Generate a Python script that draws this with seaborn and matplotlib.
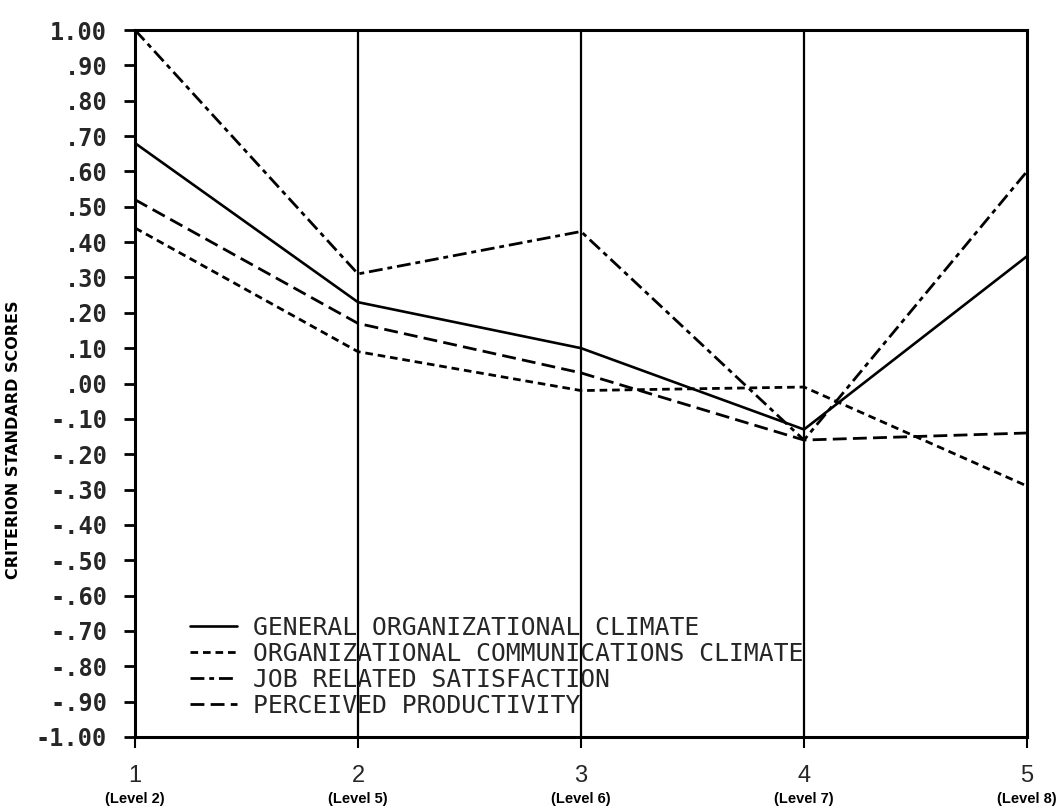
import numpy as np
import pandas as pd
import matplotlib
matplotlib.use("Agg")
import matplotlib.pyplot as plt
import seaborn as sns

# ---------------- data ----------------
positions = [1, 2, 3, 4, 5]
position_labels = ["1", "2", "3", "4", "5"]
level_labels = ["(Level 2)", "(Level 5)", "(Level 6)", "(Level 7)", "(Level 8)"]

general_climate = [0.68, 0.23, 0.10, -0.13, 0.36]
communications_climate = [0.44, 0.09, -0.02, -0.01, -0.29]
job_satisfaction = [1.00, 0.31, 0.43, -0.16, 0.60]
perceived_productivity = [0.52, 0.17, 0.03, -0.16, -0.14]

series_names = [
    "GENERAL ORGANIZATIONAL CLIMATE",
    "ORGANIZATIONAL COMMUNICATIONS CLIMATE",
    "JOB RELATED SATISFACTION",
    "PERCEIVED PRODUCTIVITY",
]

y_ticks = [1.0, 0.9, 0.8, 0.7, 0.6, 0.5, 0.4, 0.3, 0.2, 0.1, 0.0,
           -0.1, -0.2, -0.3, -0.4, -0.5, -0.6, -0.7, -0.8, -0.9, -1.0]
y_tick_labels = ["1.00", ".90", ".80", ".70", ".60", ".50", ".40", ".30", ".20", ".10", ".00",
                 "-.10", "-.20", "-.30", "-.40", "-.50", "-.60", "-.70", "-.80", "-.90", "-1.00"]

y_label = "CRITERION STANDARD SCORES"

# ---------------- style ----------------
sns.set_theme(style="white")
plt.rcParams["lines.scale_dashes"] = False
plt.rcParams["font.family"] = ["DejaVu Sans"]

fig = plt.figure(figsize=(10.6, 8.06), dpi=100)
ax = fig.add_axes([135 / 1060, 1 - 737 / 806, (1027 - 135) / 1060, (737 - 30) / 806])

# vertical grid lines at inner categories
for x in positions[1:-1]:
    ax.axvline(x, color="black", lw=1.6, zorder=1)

styles = [
    dict(linestyle="-", linewidth=1.9),
    dict(linestyle=(0, (5.5, 3.5)), linewidth=2.0),
    dict(linestyle=(0, (10, 3.5, 3.5, 3.5)), linewidth=2.0),
    dict(linestyle=(0, (10, 4.5)), linewidth=2.0),
]
all_values = [general_climate, communications_climate, job_satisfaction, perceived_productivity]

for name, vals, st in zip(series_names, all_values, styles):
    df = pd.DataFrame({"position": positions, "score": vals})
    sns.lineplot(data=df, x="position", y="score", ax=ax, color="black",
                 label=name, zorder=3, **st)

ax.set_xlim(1, 5)
ax.set_ylim(-1, 1)

for sp in ax.spines.values():
    sp.set_visible(True)
    sp.set_color("black")
    sp.set_linewidth(2.2)

ax.set_yticks(y_ticks)
ax.set_yticklabels(y_tick_labels, fontfamily="DejaVu Sans Mono", fontweight="bold", fontsize=17)
ax.tick_params(axis="y", direction="out", length=8, width=2, color="black", pad=12, left=True)

ax.set_xticks(positions)
ax.set_xticklabels(position_labels, fontfamily="Liberation Sans", fontsize=17)
ax.tick_params(axis="x", direction="out", length=8, width=1.5, color="black", pad=12, bottom=True)

for x, lvl in zip(positions, level_labels):
    ax.text(x, -0.088, lvl, transform=ax.get_xaxis_transform(), ha="center", va="center",
            fontsize=10.5, fontweight="bold", fontfamily="Liberation Sans", color="black")

ax.set_xlabel("")
ax.set_ylabel(y_label, fontsize=11.5, fontweight="bold", fontfamily="DejaVu Sans", color="black")
ax.yaxis.set_label_coords(-0.128, 0.42)

leg = ax.legend(loc="upper left", bbox_to_anchor=(0.0617, 0.171), bbox_transform=ax.transAxes,
                frameon=False, borderpad=0, borderaxespad=0, handlelength=1.9,
                handletextpad=0.65, labelspacing=0.08,
                prop={"family": "DejaVu Sans Mono", "size": 17.8})
for h in leg.get_lines():
    h.set_color("black")

ax.grid(False)
fig.savefig("out.png", dpi=100, facecolor="white")
